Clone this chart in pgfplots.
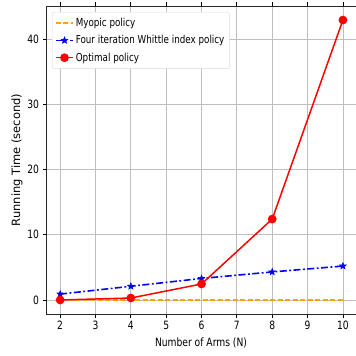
\documentclass[border=0pt]{standalone}
\usepackage{pgfplots}
\pgfplotsset{compat=1.18}
\usepackage{fontspec}
\setmainfont[FakeStretch=0.8]{DejaVu Sans}
\newfontfamily\ylfont{DejaVu Sans}
\definecolor{mpgrid}{RGB}{190,190,190}
\definecolor{mporange}{RGB}{255,165,0}
\pgfdeclareplotmark{fstar}{%
  \pgfpathmoveto{\pgfqpointpolar{90}{\pgfplotmarksize}}%
  \pgfpathlineto{\pgfqpointpolar{126}{0.42\pgfplotmarksize}}%
  \pgfpathlineto{\pgfqpointpolar{162}{\pgfplotmarksize}}%
  \pgfpathlineto{\pgfqpointpolar{198}{0.42\pgfplotmarksize}}%
  \pgfpathlineto{\pgfqpointpolar{234}{\pgfplotmarksize}}%
  \pgfpathlineto{\pgfqpointpolar{270}{0.42\pgfplotmarksize}}%
  \pgfpathlineto{\pgfqpointpolar{306}{\pgfplotmarksize}}%
  \pgfpathlineto{\pgfqpointpolar{342}{0.42\pgfplotmarksize}}%
  \pgfpathlineto{\pgfqpointpolar{18}{\pgfplotmarksize}}%
  \pgfpathlineto{\pgfqpointpolar{54}{0.42\pgfplotmarksize}}%
  \pgfpathclose
  \pgfusepathqfillstroke}
\begin{document}
\begin{tikzpicture}
\begin{axis}[
  name=ax,
  scale only axis,
  width=310bp, height=308bp,
  xmin=1.6, xmax=10.37,
  ymin=-2.15, ymax=45.05,
  xtick={2,3,4,5,6,7,8,9,10},
  ytick={0,10,20,30,40},
  grid=major,
  grid style={mpgrid, line width=0.8pt},
  axis line style={black!85, line width=1pt},
  tick align=outside,
  major tick length=3.5bp,
  tick style={black, line width=0.8pt},
  tick label style={font=\fontsize{11.5}{13}\selectfont},
  /pgf/number format/assume math mode=true,
  xlabel={Number of Arms (N)},
  ylabel={\ylfont Running Time (second)},
  label style={font=\fontsize{11.5}{13}\selectfont},
  xlabel style={yshift=-1bp},
  ylabel style={yshift=-2bp},
  legend style={at={(0,1)}, anchor=north west, xshift=6bp, yshift=-6bp,
    draw=black!15, rounded corners=2pt, fill=white,
    font=\fontsize{11}{13}\selectfont, row sep=3.5bp, inner xsep=3bp, inner ysep=4bp},
  legend cell align=left,
]
\addplot[mporange, line width=1.5pt, dash pattern=on 5bp off 2.5bp] coordinates {(2,0) (4,0) (6,0) (8,0) (10,0)};
\addlegendentry{Myopic policy}
\addplot[blue, line width=1.6pt, dash pattern=on 7bp off 2.5bp on 1.8bp off 2.5bp, mark=fstar, mark size=3.5pt, mark options={solid, fill=blue, line width=0.5pt}] coordinates {(2,0.9) (4,2.1) (6,3.3) (8,4.3) (10,5.2)};
\addlegendentry{Four iteration Whittle index policy}
\addplot[red, line width=1.5pt, mark=*, mark size=3.6pt, mark options={solid, fill=red}] coordinates {(2,0.0) (4,0.3) (6,2.45) (8,12.4) (10,42.9)};
\addlegendentry{Optimal policy}
\end{axis}
\pgfresetboundingbox
\path ([xshift=-46bp,yshift=-41bp]ax.south west) rectangle ([yshift=6bp]ax.north east);
\end{tikzpicture}
\end{document}
